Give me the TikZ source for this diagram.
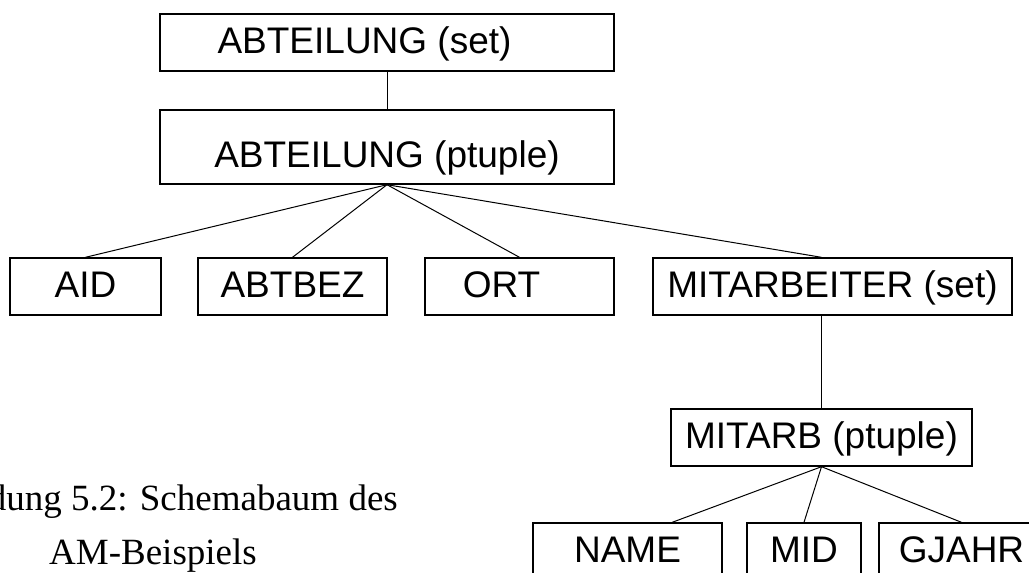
\documentclass[tikz,border=0pt]{standalone}
\usepackage{fontspec}
\setmainfont{Liberation Serif}
\setsansfont{Liberation Sans}
\usetikzlibrary{calc}
\tikzset{
  box/.style={draw,line width=1.4pt,minimum height=57pt,inner sep=0pt,
    font=\sffamily\fontsize{37}{40}\selectfont,text height=26.6pt,text depth=3.7pt},
  edge/.style={line width=1pt}
}
\begin{document}
\begin{tikzpicture}[x=1pt,y=-1pt]
  \useasboundingbox (0,0) rectangle (1029,573);
  \node[box,minimum width=454pt] (aset) at (387,42.5) {\hspace*{-45pt}ABTEILUNG (set)};
  \node[box,minimum width=454pt,minimum height=74pt,text height=45pt] (atupel) at (387,147) {ABTEILUNG (ptuple)};
  \node[box,minimum width=151pt] (aid) at (85.5,286.5) {AID};
  \node[box,minimum width=189pt] (abtbez) at (292.5,286.5) {ABTBEZ};
  \node[box,minimum width=189pt] (ort) at (519.5,286.5) {\hspace*{-36pt}ORT};
  \node[box,minimum width=359pt] (mset) at (832.5,286.5) {MITARBEITER (set)};
  \node[box,minimum width=301pt] (mitarb) at (821.5,437.5) {MITARB (ptuple)};
  \node[box,minimum width=189pt] (name) at (627.5,551.5) {NAME};
  \node[box,minimum width=114pt] (mid) at (804,551.5) {MID};
  \node[box,minimum width=165pt] (gjahr) at (961.5,551.5) {GJAHR};
  % Bildunterschrift, links abgeschnitten
  \node[anchor=base east,inner sep=0pt,font=\fontsize{37}{44}\selectfont] (cap1) at (398,510) {Abbildung 5.2: Schemabaum des};
  \node[anchor=base west,inner sep=0pt,font=\fontsize{37}{44}\selectfont] (cap2) at (49,564) {AM-Beispiels};
  \draw[edge] (aset) -- (atupel);
  \draw[edge] (atupel.south) -- (aid.north);
  \draw[edge] (atupel.south) -- (abtbez.north);
  \draw[edge] (atupel.south) -- (ort.north);
  \draw[edge] (atupel.south) -- (mitarb.north |- mset.north);
  \draw[edge] (mset.south -| mitarb.north) -- (mitarb.north);
  \draw[edge] (mitarb.south) -- ($(name.north west)!0.735!(name.north east)$);
  \draw[edge] (mitarb.south) -- (mid.north);
  \draw[edge] (mitarb.south) -- (gjahr.north);
\end{tikzpicture}
\end{document}
